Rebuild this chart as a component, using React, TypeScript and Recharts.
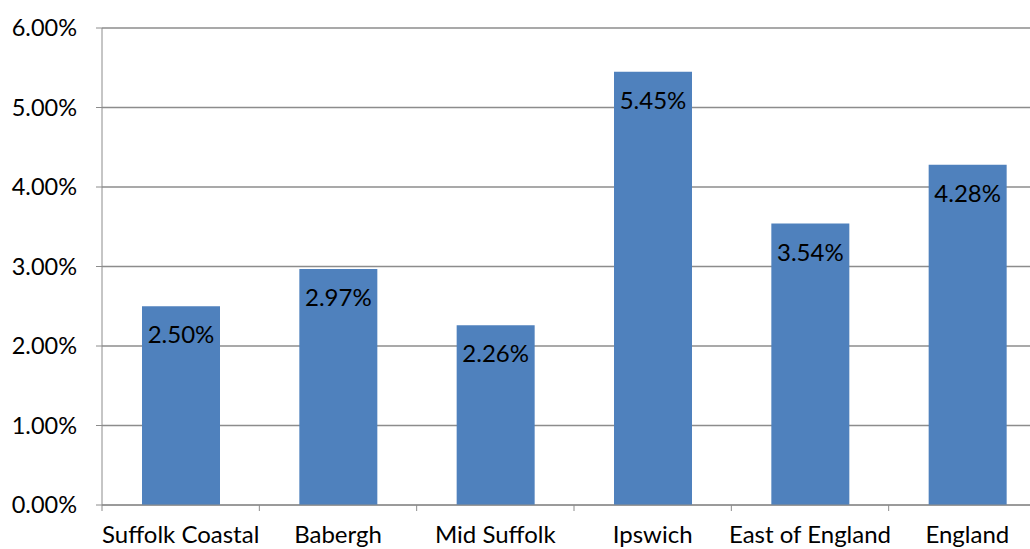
import { Bar, BarChart, CartesianGrid, LabelList, XAxis, YAxis } from 'recharts'

const categories = ['Suffolk Coastal', 'Babergh', 'Mid Suffolk', 'Ipswich', 'East of England', 'England']
const rates = [2.5, 2.97, 2.26, 5.45, 3.54, 4.28]
const yTicks = [0, 1, 2, 3, 4, 5, 6]

const data = categories.map((name, i) => ({ name, rate: rates[i] }))

const W = 1030
const H = 549
const AXIS_W = 102
// the plot area runs a little past the right edge of the picture
const RIGHT = -16
const PLOT_W = W - AXIS_W - RIGHT
const BAND = PLOT_W / categories.length
const FONT = 'Lato, "Open Sans", sans-serif'
const GRID = '#8c8c8c'

const pct = (v: number) => `${Number(v).toFixed(2)}%`

function CategoryTick(props: any) {
  const { x, y, payload } = props
  const left = x - BAND / 2
  return (
    <g>
      <line x1={left} x2={left} y1={y - 8} y2={y - 2} stroke={GRID} />
      <text x={x} y={y + 30} textAnchor="middle" fill="#000" fontSize={24} fontFamily={FONT}>
        {payload.value}
      </text>
    </g>
  )
}

export default function App() {
  return (
    <div style={{ position: 'absolute', left: 0, top: 0, width: W, height: H, overflow: 'hidden', background: '#fff' }}>
      <BarChart
        width={W}
        height={H}
        data={data}
        margin={{ top: 28, right: RIGHT, bottom: 0, left: 0 }}
        barSize={78}>
        <CartesianGrid vertical={false} stroke={GRID} strokeWidth={1.5} />
        <XAxis
          dataKey="name"
          height={44}
          axisLine={{ stroke: GRID }}
          tickLine={false}
          interval={0}
          tick={<CategoryTick />}
        />
        <YAxis
          width={AXIS_W}
          domain={[0, 6]}
          ticks={yTicks}
          tickFormatter={pct}
          axisLine={{ stroke: GRID }}
          tickLine={{ stroke: GRID }}
          tickSize={6}
          tickMargin={19}
          tick={{ fill: '#000', fontSize: 23.5, fontFamily: FONT }}
        />
        <Bar dataKey="rate" fill="#4f81bd" isAnimationActive={false}>
          <LabelList
            dataKey="rate"
            position="insideTop"
            offset={20}
            formatter={pct}
            fill="#000"
            fontSize={24}
            fontFamily={FONT}
          />
        </Bar>
      </BarChart>
    </div>
  )
}
